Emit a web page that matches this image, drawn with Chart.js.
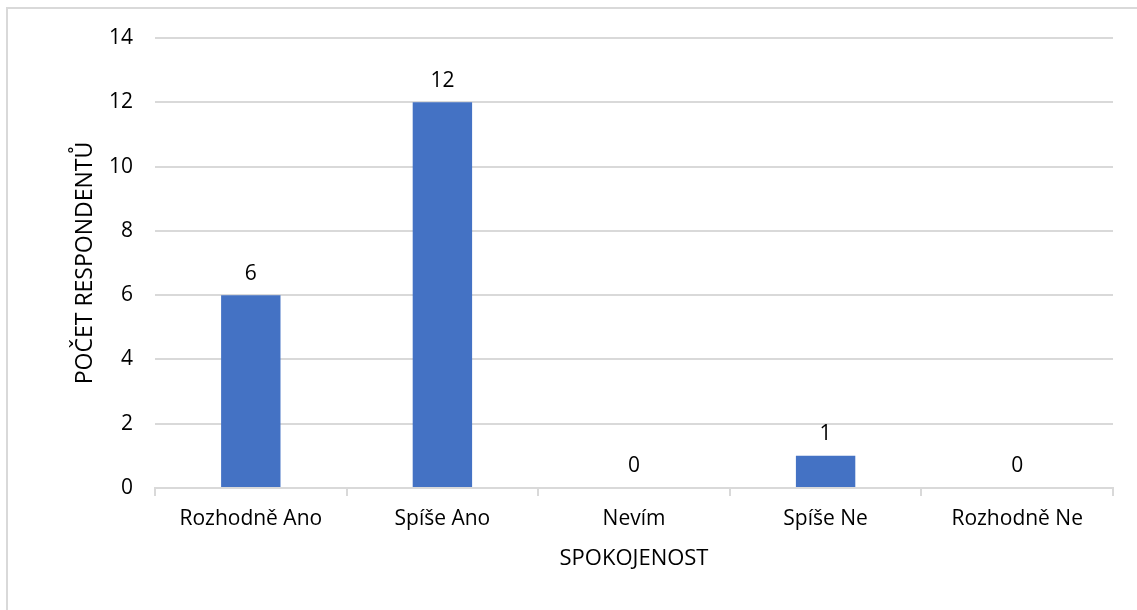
<!DOCTYPE html>
<html>
<head>
<meta charset="utf-8">
<script src="https://cdn.jsdelivr.net/npm/chart.js@4/dist/chart.umd.min.js"></script>
<style>
    html, body { margin: 0; padding: 0; background: #fff; }
    #frame {
        position: absolute; left: 6px; top: 7px; width: 1140px; height: 610px;
        border: 2px solid #d9d9d9; box-sizing: border-box;
    }
    #wrap { position: absolute; left: 0; top: 0; width: 1137px; height: 610px; }
</style>
</head>
<body>
<div id="frame"></div>
<div id="wrap"><canvas id="chart" width="1137" height="610"></canvas></div>
<script>
const categories = ['Rozhodně Ano', 'Spíše Ano', 'Nevím', 'Spíše Ne', 'Rozhodně Ne'];
const counts = [6, 12, 0, 1, 0];
const yTicks = [0, 2, 4, 6, 8, 10, 12, 14];

const fontFamily = "'Open Sans', 'Noto Sans', sans-serif";
const fontSize = 21;

// Draw the value above each bar (no datalabels plugin available)
const valueLabels = {
    id: 'valueLabels',
    afterDatasetsDraw(chart) {
        const ctx = chart.ctx;
        const meta = chart.getDatasetMeta(0);
        ctx.save();
        ctx.font = fontSize + 'px ' + fontFamily;
        ctx.fillStyle = '#000';
        ctx.textAlign = 'center';
        ctx.textBaseline = 'bottom';
        meta.data.forEach((bar, i) => {
            ctx.fillText(String(counts[i]), bar.x, bar.y - 11);
        });
        ctx.restore();
    }
};

new Chart(document.getElementById('chart').getContext('2d'), {
    type: 'bar',
    data: {
        labels: categories,
        datasets: [{
            data: counts,
            backgroundColor: '#4472C4',
            categoryPercentage: 1,
            barPercentage: 0.31
        }]
    },
    options: {
        responsive: false,
        animation: false,
        layout: { padding: { left: 72, right: 24, top: 38, bottom: 38 } },
        plugins: {
            legend: { display: false },
            tooltip: { enabled: false }
        },
        scales: {
            x: {
                grid: {
                    display: true,
                    drawOnChartArea: false,
                    drawTicks: true,
                    tickLength: 8,
                    color: '#d9d9d9',
                    lineWidth: 2
                },
                border: { color: '#d9d9d9', width: 2 },
                ticks: { color: '#000', font: { family: fontFamily, size: fontSize }, padding: 10 },
                title: {
                    display: true,
                    text: 'SPOKOJENOST',
                    color: '#000',
                    font: { family: fontFamily, size: 22 },
                    padding: { top: 0, bottom: 0 }
                },
                afterFit(scale) { scale.height = 84; }
            },
            y: {
                min: 0,
                max: 14,
                afterBuildTicks(scale) { scale.ticks = yTicks.map(v => ({ value: v })); },
                grid: { color: '#d9d9d9', lineWidth: 2, drawTicks: false },
                border: { display: false },
                ticks: { color: '#000', font: { family: fontFamily, size: fontSize }, padding: 22 },
                title: {
                    display: true,
                    text: 'POČET RESPONDENTŮ',
                    color: '#000',
                    font: { family: fontFamily, size: 23 },
                    padding: { top: 0, bottom: 0 }
                },
                afterFit(scale) { scale.width = 83; }
            }
        }
    },
    plugins: [valueLabels]
});
</script>
</body>
</html>
